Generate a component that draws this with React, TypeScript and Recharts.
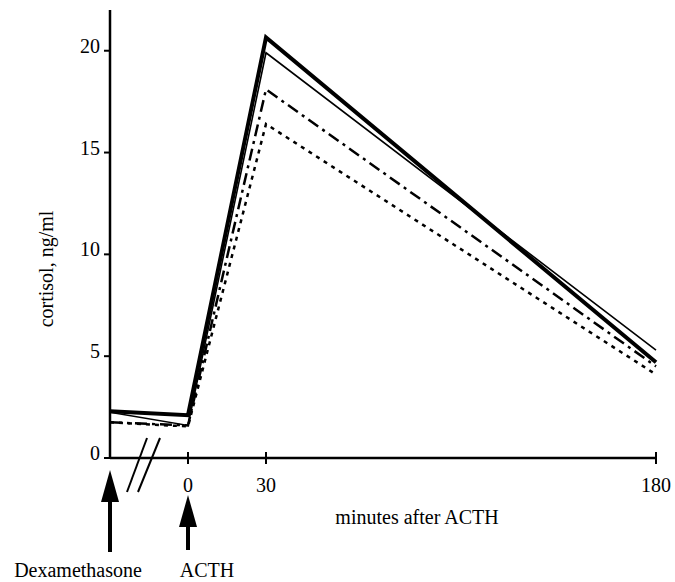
// Cortisol response after dexamethasone suppression and ACTH stimulation.
// Four subjects drawn as black lines with different dash styles; the
// dexamethasone time slot sits left of an axis break at minute -30.

import { Line, LineChart, ReferenceDot, XAxis, YAxis } from 'recharts';

const FONT = '"Liberation Serif", "Times New Roman", Times, serif';

// -30 stands for the dexamethasone slot (before the axis break)
const minutes = [-30, 0, 30, 180];
const thickSolid = [2.3, 2.1, 20.65, 4.7];
const thinSolid = [2.25, 1.6, 19.9, 5.3];
const dashDot = [1.75, 1.6, 18.1, 4.5];
const dotted = [1.75, 1.55, 16.4, 4.1];

const xTicks = [0, 30, 180];
const yTicks = [0, 5, 10, 15, 20];
const dexMinute = -30;
const acthMinute = 0;
const breakMinute = -17;

const data = minutes.map((t, i) => ({
  t,
  thick: thickSolid[i],
  thin: thinSolid[i],
  dashDot: dashDot[i],
  dotted: dotted[i],
}));

function XTick({ x, y, payload }: any) {
  return (
    <g>
      <line x1={x} x2={x} y1={y - 6} y2={y + 6} stroke="#000" strokeWidth={2} />
      <text x={x} y={y + 34} textAnchor="middle" fontFamily={FONT} fontSize={20} fill="#000">
        {payload.value}
      </text>
    </g>
  );
}

function YTick({ x, y, payload }: any) {
  return (
    <g>
      <line x1={x - 6} x2={x} y1={y} y2={y} stroke="#000" strokeWidth={2} />
      <text x={x - 10} y={y + 2} textAnchor="end" fontFamily={FONT} fontSize={20} fill="#000">
        {payload.value}
      </text>
    </g>
  );
}

function arrowShape(tipDy: number, baseDy: number, endDy: number, label: string, labelDx: number) {
  return ({ cx, cy }: any) => (
    <g>
      <polygon
        points={`${cx},${cy + tipDy} ${cx - 9},${cy + baseDy} ${cx + 9},${cy + baseDy}`}
        fill="#000"
      />
      <rect x={cx - 2} y={cy + baseDy - 1} width={4} height={endDy - baseDy + 1} fill="#000" />
      <text x={cx + labelDx} y={cy + 119} textAnchor="middle" fontFamily={FONT} fontSize={20} fill="#000">
        {label}
      </text>
    </g>
  );
}

const BreakShape = ({ cx, cy }: any) => (
  <g stroke="#000" strokeWidth={2}>
    <line x1={cx - 16.8} y1={cy + 34} x2={cx + 3.2} y2={cy - 20} />
    <line x1={cx - 5.8} y1={cy + 34} x2={cx + 16.2} y2={cy - 20} />
  </g>
);

const YLabel = ({ viewBox }: any) => {
  const x = viewBox.x + 45;
  const y = viewBox.y + viewBox.height / 2 + 35;
  return (
    <text
      x={x}
      y={y}
      transform={`rotate(-90, ${x}, ${y})`}
      textAnchor="middle"
      fontFamily={FONT}
      fontSize={20}
      fill="#000"
    >
      cortisol, ng/ml
    </text>
  );
};

const XLabel = ({ viewBox }: any) => (
  <text
    x={viewBox.x + 307}
    y={viewBox.y + 66}
    textAnchor="middle"
    fontFamily={FONT}
    fontSize={20}
    fill="#000"
  >
    minutes after ACTH
  </text>
);

export default function App() {
  return (
    <div style={{ position: 'absolute', top: 0, left: 0, width: 675, height: 582, background: '#fff' }}>
      <LineChart width={675} height={582} data={data} margin={{ top: 10, right: 19, bottom: 94, left: 8 }}>
        <XAxis
          type="number"
          dataKey="t"
          domain={[-30, 180]}
          ticks={xTicks}
          tick={<XTick />}
          tickLine={false}
          tickSize={0}
          tickMargin={0}
          height={30}
          axisLine={{ stroke: '#000', strokeWidth: 2.5 }}
          label={<XLabel />}
        />
        <YAxis
          type="number"
          domain={[0, 22]}
          ticks={yTicks}
          tick={<YTick />}
          tickLine={false}
          tickSize={0}
          tickMargin={0}
          width={102}
          axisLine={{ stroke: '#000', strokeWidth: 2.5 }}
          label={<YLabel />}
        />
        <Line
          type="linear"
          dataKey="dotted"
          stroke="#000"
          strokeWidth={2.5}
          strokeDasharray="4 5"
          dot={false}
          activeDot={false}
          isAnimationActive={false}
        />
        <Line
          type="linear"
          dataKey="dashDot"
          stroke="#000"
          strokeWidth={2.5}
          strokeDasharray="12 5 3 5"
          dot={false}
          activeDot={false}
          isAnimationActive={false}
        />
        <Line
          type="linear"
          dataKey="thin"
          stroke="#000"
          strokeWidth={1.6}
          dot={false}
          activeDot={false}
          isAnimationActive={false}
        />
        <Line
          type="linear"
          dataKey="thick"
          stroke="#000"
          strokeWidth={4}
          dot={false}
          activeDot={false}
          isAnimationActive={false}
        />
        <ReferenceDot x={breakMinute} y={0} shape={BreakShape} />
        <ReferenceDot x={dexMinute} y={0} shape={arrowShape(12, 44, 94, 'Dexamethasone', -32)} />
        <ReferenceDot x={acthMinute} y={0} shape={arrowShape(37, 69, 92, 'ACTH', 19)} />
      </LineChart>
    </div>
  );
}
